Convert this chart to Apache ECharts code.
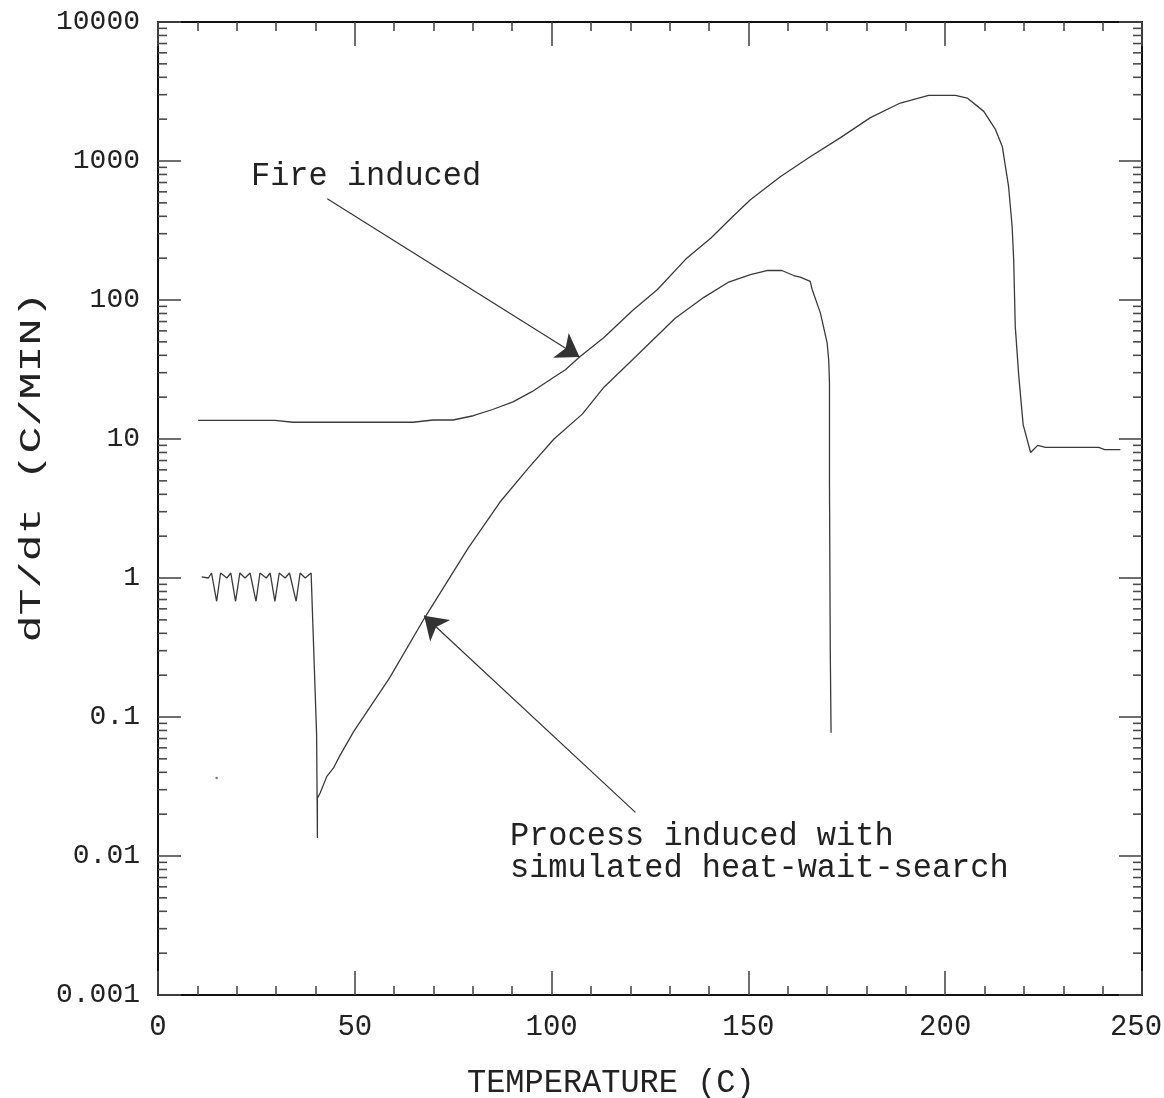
<!DOCTYPE html>
<html>
<head>
<meta charset="utf-8">
<script src="https://cdn.jsdelivr.net/npm/echarts@6/dist/echarts.min.js"></script>
<style>
  html, body { margin: 0; padding: 0; background: #ffffff; }
  #chart { width: 1164px; height: 1098px; }
</style>
</head>
<body>
<div id="chart"></div>
<script>
// Heating rate dT/dt (C/MIN) against temperature (C)

// Fire induced run
const fireTemp = [10.2, 29.7, 34.3, 64.8, 69.9, 75.0, 80.1, 85.0, 90.2, 95.0, 99.6, 103.5, 107.1,
  113.3, 120.5, 126.9, 134.1, 140.5, 145.9, 150.5, 158.1, 165.7, 173.4, 181.0, 188.6, 195.8,
  202.6, 205.6, 209.8, 212.8, 214.5, 216.1, 217.0, 217.4, 217.8, 218.7, 219.8, 221.7, 223.5,
  225.5, 239.0, 240.5, 244.5];
const fireRate = [13.6, 13.6, 13.2, 13.2, 13.7, 13.7, 14.7, 16.3, 18.5, 21.9, 26.7, 31.5, 38.9,
  53.7, 83.8, 119, 197, 279, 396, 527, 771, 1074, 1472, 2051, 2612, 2965,
  2965, 2838, 2275, 1680, 1273, 656, 339, 195, 64.6, 28.2, 12.7, 8.0, 9.0,
  8.7, 8.7, 8.4, 8.4];

// Process induced run with simulated heat-wait-search
const procTemp = [11.1, 12.8, 13.6, 14.9, 15.9, 17.5, 18.5, 19.7, 20.8, 22.1, 23.4, 24.9, 25.9,
  27.5, 28.5, 29.7, 30.8, 32.3, 33.4, 35.1, 36.1, 37.4, 38.9, 40.3, 40.5, 40.5, 41.2, 42.9,
  44.6, 46.1, 49.7, 58.8, 67.9, 78.8, 86.9, 94.2, 100.6, 107.8, 113.3, 121.4, 131.4, 138.7,
  145.0, 150.5, 154.7, 158.5, 161.5, 163.2, 165.7, 166.2, 168.3, 170.0, 170.4, 170.6, 170.6,
  170.8, 171.0];
const procRate = [1.02, 1.0, 1.086, 0.68, 1.086, 1.0, 1.086, 0.68, 1.086, 1.0, 1.086, 0.68, 1.086,
  1.0, 1.086, 0.68, 1.086, 1.0, 1.086, 0.68, 1.086, 1.0, 1.086, 0.0746, 0.01347, 0.0261, 0.0284, 0.0374,
  0.043, 0.0521, 0.0785, 0.1905, 0.526, 1.64, 3.52, 6.22, 10.0, 15.1, 23.6, 39.2, 73.8, 104.5,
  134.6, 152, 163, 163, 150, 146, 136, 119, 80.5, 49.1, 37.2, 25.3, 4.82,
  0.305, 0.0771];

// Isolated stray reading
const strayPoint = [[14.9, 0.0364]];

// Axis ranges and tick labels
const xMin = 0, xMax = 250, xStep = 50;
const yTickLabels = ['0.001', '0.01', '0.1', '1', '10', '100', '1000', '10000'];
const yMin = 0.001, yMax = 10000;
const minorMultipliers = [2, 3, 4, 5, 6, 7, 8, 9];

// Annotation arrows: [tail, tip] in data coordinates
const fireArrow = [[43.0, 536], [107.1, 38.9]];
const procArrow = [[121.3, 0.0206], [67.6, 0.535]];

const MONO = "'Liberation Mono', 'DejaVu Sans Mono', monospace";
const INK = '#222';
const CURVE = '#3a3a3a';
const TICK = '#4a4a4a';

const firePairs = fireTemp.map((t, i) => [t, fireRate[i]]);
const procPairs = procTemp.map((t, i) => [t, procRate[i]]);

const minorValues = [];
yTickLabels.slice(0, -1).forEach(lbl => {
  const base = parseFloat(lbl);
  minorMultipliers.forEach(m => minorValues.push([xMin, m * base]));
});

const chart = echarts.init(document.getElementById('chart'), null, { renderer: 'canvas' });

const frameLine = { show: true, onZero: false, lineStyle: { color: '#111', width: 2 } };

const xAxisBase = {
  type: 'value', min: xMin, max: xMax, interval: xStep,
  axisLine: frameLine,
  splitLine: { show: false },
  axisTick: { show: true, inside: true, length: 24, lineStyle: { color: TICK, width: 1.6 } },
  minorTick: { show: true, splitNumber: 5, length: 9, lineStyle: { color: TICK, width: 1.6 } },
  minorSplitLine: { show: false }
};

const yAxisBase = {
  type: 'log', logBase: 10, min: yMin, max: yMax, splitNumber: 7,
  axisLine: frameLine,
  splitLine: { show: false },
  axisTick: { show: true, inside: true, length: 23, lineStyle: { color: TICK, width: 1.6 } }
};

function labelFor(v) {
  const idx = Math.round(Math.log10(v)) + 3;
  return yTickLabels[idx] || '';
}

// keep the last temperature label inside the canvas edge
function xLabelFor(v) {
  return v === xMax ? '{edge|' + v + '}' : String(v);
}

const option = {
  animation: false,
  backgroundColor: '#ffffff',
  grid: { left: 158, right: 22, top: 22, bottom: 103, containLabel: false, outerBoundsMode: 'none' },
  xAxis: [
    Object.assign({}, xAxisBase, {
      position: 'bottom',
      axisLabel: {
        show: true, margin: 18, fontFamily: MONO, fontSize: 29, color: INK,
        formatter: xLabelFor,
        rich: { edge: { fontFamily: MONO, fontSize: 29, color: INK, padding: [0, 12, 0, 0] } }
      }
    }),
    Object.assign({}, xAxisBase, { position: 'top', axisLabel: { show: false } })
  ],
  yAxis: [
    Object.assign({}, yAxisBase, {
      position: 'left',
      axisLabel: { show: true, margin: 18, fontFamily: MONO, fontSize: 28, color: INK, formatter: labelFor }
    }),
    Object.assign({}, yAxisBase, { position: 'right', axisLabel: { show: false } })
  ],
  series: [
    {
      name: 'Fire induced', type: 'line', data: firePairs,
      showSymbol: false, symbol: 'none', smooth: false,
      lineStyle: { color: CURVE, width: 1.3 },
      markLine: {
        silent: true, symbol: ['none', 'arrow'], symbolSize: 22,
        label: { show: false },
        lineStyle: { color: '#333', width: 1.2, type: 'solid' },
        itemStyle: { color: '#111' },
        data: [[{ coord: fireArrow[0] }, { coord: fireArrow[1] }]]
      }
    },
    {
      name: 'Process induced', type: 'line', data: procPairs,
      showSymbol: false, symbol: 'none', smooth: false,
      lineStyle: { color: CURVE, width: 1.3 },
      markLine: {
        silent: true, symbol: ['none', 'arrow'], symbolSize: 22,
        label: { show: false },
        lineStyle: { color: '#333', width: 1.2, type: 'solid' },
        itemStyle: { color: '#111' },
        data: [[{ coord: procArrow[0] }, { coord: procArrow[1] }]]
      }
    },
    {
      name: 'stray', type: 'scatter', data: strayPoint,
      symbolSize: 2.5, itemStyle: { color: '#555' }, silent: true
    },
    {
      // minor log ticks on the left and right frame edges
      name: 'minorTicks', type: 'custom', data: minorValues, silent: true, clip: false,
      encode: { x: 0, y: 1 },
      renderItem: function (params, api) {
        const v = api.value(1);
        const pl = api.coord([xMin, v]);
        const pr = api.coord([xMax, v]);
        const st = { stroke: TICK, lineWidth: 1.6 };
        return {
          type: 'group',
          children: [
            { type: 'line', shape: { x1: pl[0], y1: pl[1], x2: pl[0] + 9, y2: pl[1] }, style: st },
            { type: 'line', shape: { x1: pr[0], y1: pr[1], x2: pr[0] - 9, y2: pr[1] }, style: st }
          ]
        };
      }
    }
  ],
  graphic: [
    {
      type: 'text', x: 32, y: 467, rotation: Math.PI / 2, scaleX: 1.5,
      style: {
        text: 'dT/dt (C/MIN)', font: '30px ' + MONO, fill: INK,
        align: 'center', verticalAlign: 'middle', textAlign: 'center', textVerticalAlign: 'middle'
      }
    },
    {
      type: 'text', x: 467, y: 1083, scaleX: 0.94,
      style: {
        text: 'TEMPERATURE (C)', font: '34px ' + MONO, fill: INK,
        align: 'left', verticalAlign: 'middle', textAlign: 'left', textVerticalAlign: 'middle'
      }
    },
    {
      type: 'text', x: 251, y: 176, scaleX: 0.94,
      style: {
        text: 'Fire induced', font: '34px ' + MONO, fill: INK,
        align: 'left', verticalAlign: 'middle', textAlign: 'left', textVerticalAlign: 'middle'
      }
    },
    {
      type: 'text', x: 510, y: 836, scaleX: 0.94,
      style: {
        text: 'Process induced with', font: '34px ' + MONO, fill: INK,
        align: 'left', verticalAlign: 'middle', textAlign: 'left', textVerticalAlign: 'middle'
      }
    },
    {
      type: 'text', x: 510, y: 868, scaleX: 0.94,
      style: {
        text: 'simulated heat-wait-search', font: '34px ' + MONO, fill: INK,
        align: 'left', verticalAlign: 'middle', textAlign: 'left', textVerticalAlign: 'middle'
      }
    }
  ]
};

chart.setOption(option);
</script>
</body>
</html>
